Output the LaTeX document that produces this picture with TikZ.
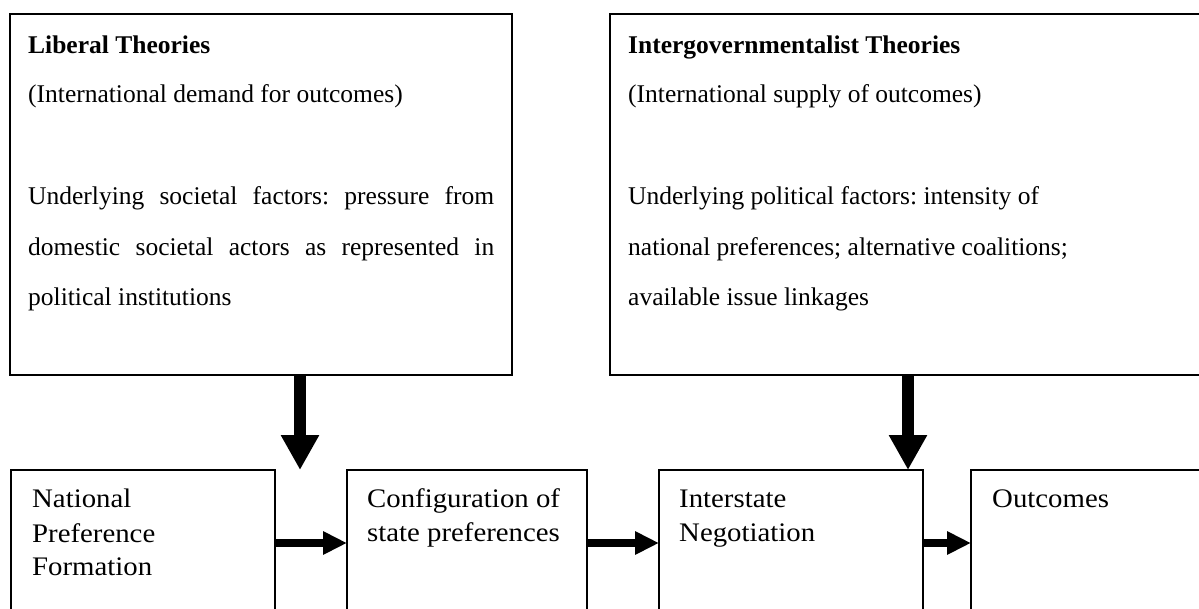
\documentclass[tikz,border=0pt]{standalone}
\usepackage{fontspec}
\setmainfont{Liberation Serif}
\usetikzlibrary{arrows.meta}
\frenchspacing
\newcommand{\sq}[1]{\scalebox{1}[0.93]{#1}}
\begin{document}
\begin{tikzpicture}[x=1pt,y=-1pt,
  box/.style={draw,line width=1.3pt,inner sep=0pt,outer sep=0pt,anchor=north west},
  txt/.style={anchor=base west,inner sep=0pt,font=\fontsize{25.5}{30}\selectfont},
  btxt/.style={anchor=base west,inner sep=0pt,font=\fontsize{28.8}{34}\selectfont},
  varr/.style={line width=12pt,-{Triangle[length=35pt,width=36pt]}},
  harr/.style={line width=8pt,-{Triangle[length=24pt,width=22pt]}}]
\clip (0,0) rectangle (1199,608);
\fill[white] (0,0) rectangle (1199,608);
% boxes
\node[box,minimum width=502pt,minimum height=361pt] (L) at (10,14) {};
\node[box,minimum width=600pt,minimum height=361pt] (R) at (610,14) {};
\node[box,minimum width=264pt,minimum height=170pt] (B1) at (11,470) {};
\node[box,minimum width=240pt,minimum height=170pt] (B2) at (347,470) {};
\node[box,minimum width=264pt,minimum height=170pt] (B3) at (659,470) {};
\node[box,minimum width=250pt,minimum height=170pt] (B4) at (971,470) {};
% top-left text
\node[txt] (l1) at (28,53) {\textbf{Liberal Theories}};
\node[txt] (l2) at (28,102) {(International demand for outcomes)};
\node[txt] (l3) at (28,204) {\makebox[466pt][s]{Underlying societal factors: pressure from}};
\node[txt] (l4) at (28,255) {\makebox[466pt][s]{domestic societal actors as represented in}};
\node[txt] (l5) at (28,305) {political institutions};
% top-right text
\node[txt] (r1) at (628,53) {\textbf{Intergovernmentalist Theories}};
\node[txt] (r2) at (628,102) {(International supply of outcomes)};
\node[txt] (r3) at (628,204) {Underlying political factors: intensity of};
\node[txt] (r4) at (628,255) {national preferences; alternative coalitions;};
\node[txt] (r5) at (628,305) {available issue linkages};
% bottom text
\node[btxt] (a1) at (32,507) {\sq{National}};
\node[btxt] (a2) at (32,542) {\sq{Preference}};
\node[btxt] (a3) at (32,575) {\sq{Formation}};
\node[btxt] (c1) at (367,507) {\sq{Configuration of}};
\node[btxt] (c2) at (367,541) {\sq{state preferences}};
\node[btxt] (i1) at (679,507) {\sq{Interstate}};
\node[btxt] (i2) at (679,541) {\sq{Negotiation}};
\node[btxt] (o1) at (992,507) {\sq{Outcomes}};
% arrows
\coordinate (t1) at (300,470);
\coordinate (x2) at (908,0);
\coordinate (ya) at (0,543);
\draw[varr] (L.south -| t1) -- (t1);
\draw[varr] (R.south -| x2) -- (B3.north -| x2);
\draw[harr] (B1.east |- ya) -- (B2.west |- ya);
\draw[harr] (B2.east |- ya) -- (B3.west |- ya);
\draw[harr] (B3.east |- ya) -- (B4.west |- ya);
\end{tikzpicture}
\end{document}
